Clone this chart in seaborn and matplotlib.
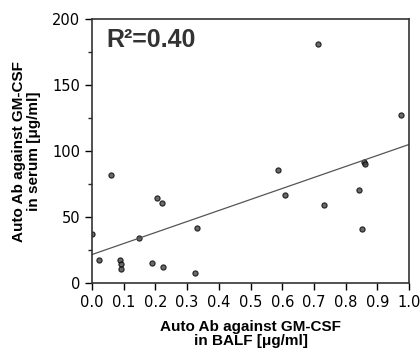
import matplotlib
matplotlib.use('Agg')
import matplotlib.pyplot as plt
import pandas as pd
import seaborn as sns
from matplotlib.ticker import MultipleLocator

# values
balf = [0.0, 0.023, 0.06, 0.089, 0.09, 0.093, 0.148, 0.19, 0.204, 0.222, 0.223,
        0.326, 0.33, 0.586, 0.608, 0.714, 0.732, 0.842, 0.853, 0.857, 0.86, 0.975]
serum = [37, 17.7, 82, 17.5, 14.5, 11, 34.5, 15.4, 64.3, 61, 12.4,
         7.6, 42, 86, 67, 181, 59, 70.6, 41.4, 92, 90, 127.4]
r2_text = 'R\u00b2=0.40'

df = pd.DataFrame({'balf': balf, 'serum': serum})

sns.set_theme(style='ticks')
plt.rcParams['font.family'] = ['DejaVu Sans']

fig = plt.figure(figsize=(4.2, 3.6), dpi=100)
ax = fig.add_axes([0.219, 0.213, 0.755, 0.734])
sns.regplot(
    data=df,
    x='balf',
    y='serum',
    ci=None,
    truncate=False,
    scatter_kws={'s': 14, 'color': '#444444', 'edgecolor': 'black', 'linewidths': 0.8},
    line_kws={'color': '#555555', 'linewidth': 0.9},
    ax=ax,
)
ax.set_xlim(0, 1.0)
ax.set_ylim(0, 200)
ax.xaxis.set_major_locator(MultipleLocator(0.1))
ax.yaxis.set_major_locator(MultipleLocator(50))
ax.yaxis.set_minor_locator(MultipleLocator(25))
ax.tick_params(axis='both', which='major', labelsize=10.5, length=5, width=1, colors='black')
ax.tick_params(axis='y', which='minor', length=3, width=1)
for s in ax.spines.values():
    s.set_linewidth(1.2)
    s.set_color('#333333')

bold = dict(family=['Liberation Sans', 'DejaVu Sans'], fontweight='bold', fontsize=11, color='black')
ax.set_xlabel('Auto Ab against GM-CSF\nin BALF [\u03bcg/ml]', labelpad=7, linespacing=1.05, **bold)
ax.set_ylabel('Auto Ab against GM-CSF\nin serum [\u03bcg/ml]', labelpad=8, linespacing=1.05, **bold)
ax.text(0.045, 0.92, r2_text, transform=ax.transAxes, ha='left', va='center',
        fontsize=18, fontweight='bold', color='#333333',
        family=['Liberation Sans', 'DejaVu Sans'])

fig.savefig('out.png', dpi=100)
